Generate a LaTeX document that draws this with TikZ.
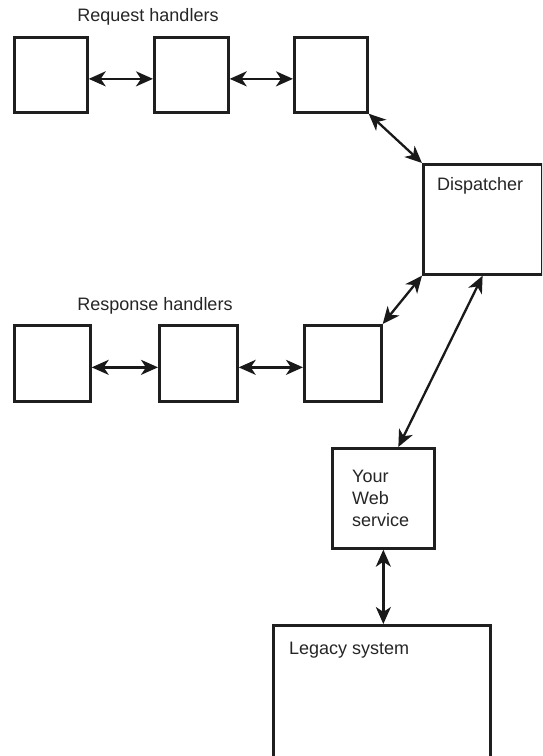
\documentclass[tikz,border=0pt]{standalone}
\usepackage{fontspec}
\setmainfont{Liberation Sans}
\usetikzlibrary{arrows.meta}
\begin{document}
\begin{tikzpicture}[x=1pt,y=-1pt,
  box/.style={draw=black!88,line width=2.7pt,rectangle,inner sep=0pt,anchor=north west},
  lbl/.style={inner sep=0pt,font=\fontsize{18}{22}\selectfont,text=black!85},
  link/.style={draw=black!90,line width=2.3pt,
    {Stealth[length=17pt,width=15pt,inset=5pt]}-{Stealth[length=17pt,width=15pt,inset=5pt]}}]
  \clip (0,0) rectangle (542,756);
  \fill[white] (0,0) rectangle (542,756);

  % request handler chain
  \node[box,minimum width=73pt,minimum height=75pt] (q1) at (13,36) {};
  \node[box,minimum width=74pt,minimum height=75pt] (q2) at (153,36) {};
  \node[box,minimum width=73pt,minimum height=75pt] (q3) at (293,36) {};
  \node[lbl,anchor=base] (qlab) at (148,21.7) {Request handlers};

  % dispatcher
  \node[box,minimum width=118.5pt,minimum height=110pt] (disp) at (422,163) {};
  \node[lbl,anchor=base west] (displab) at (437,190) {Dispatcher};

  % response handler chain
  \node[box,minimum width=76pt,minimum height=76pt] (s1) at (13,324) {};
  \node[box,minimum width=78pt,minimum height=76pt] (s2) at (158,324) {};
  \node[box,minimum width=77pt,minimum height=76pt] (s3) at (303,324) {};
  \node[lbl,anchor=base] (slab) at (155,310) {Response handlers};

  % web service
  \node[box,minimum width=102pt,minimum height=100pt] (web) at (331,447) {};
  \node[lbl,anchor=north west,align=left] (weblab) at (352,469.5) {Your\\Web\\service};

  % legacy system (runs off the bottom edge)
  \node[box,minimum width=217pt,minimum height=160pt] (legacy) at (272,624) {};
  \node[lbl,anchor=base west] (leglab) at (289,654) {Legacy system};

  % connectors
  \draw[link] ([yshift=-4pt]q1.east) -- ([yshift=-4pt]q2.west);
  \draw[link] ([yshift=-4pt]q2.east) -- ([yshift=-4pt]q3.west);
  \draw[link] (q3.south east) -- (disp.north west);
  \draw[link] (disp.south west) -- (s3.north east);
  \draw[link] ([yshift=-4pt]s1.east) -- ([yshift=-4pt]s2.west);
  \draw[link] ([yshift=-4pt]s2.east) -- ([yshift=-4pt]s3.west);
  \draw[link] (disp.south) -- ([xshift=15pt]web.north);
  \draw[link] (web.south) -- (web.south |- legacy.north);
\end{tikzpicture}
\end{document}
